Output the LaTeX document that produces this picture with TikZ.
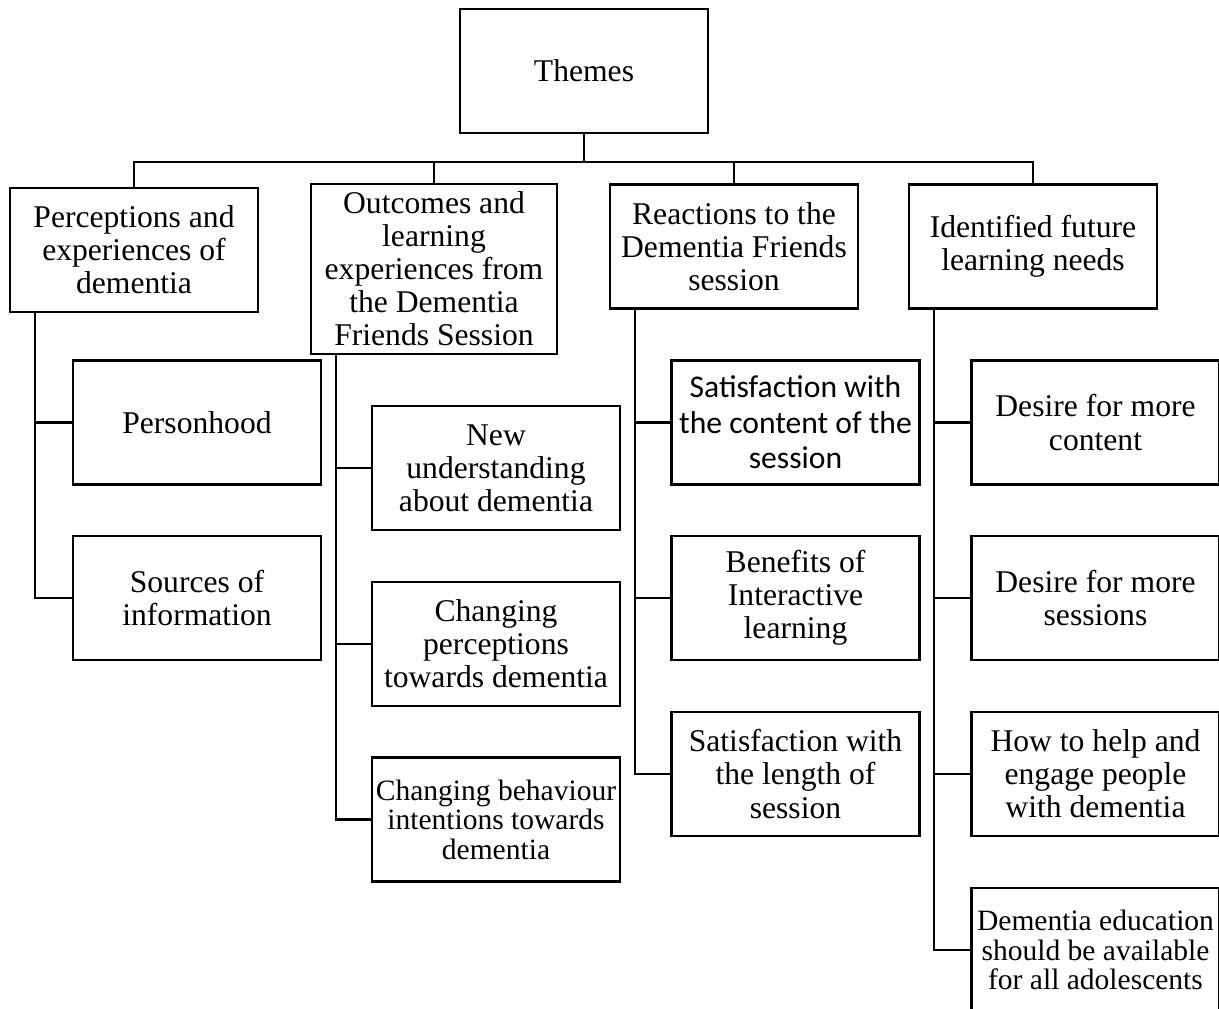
\documentclass[tikz,border=0pt]{standalone}
\usepackage{fontspec}
\setmainfont{Liberation Serif}
\newfontfamily\calibri{Carlito}
\tikzset{
  box/.style={draw,line width=1.3pt,align=center,inner sep=0pt,
    minimum width=4.96cm,minimum height=2.48cm,
    font=\fontsize{18}{18.8}\selectfont},
  small/.style={font=\fontsize{16.8}{16.8}\selectfont},
  link/.style={line width=1.3pt}
}
\begin{document}
\begin{tikzpicture}[x=0.02cm,y=-0.02cm]
  \useasboundingbox (0,0) rectangle (1219,1008);
  \node[box] (themes) at (584,71) {Themes};
  % main themes
  \node[box] (p1) at (134,250) {Perceptions and\\experiences of\\dementia};
  \node[box,minimum width=4.92cm,minimum height=3.4cm] (p2) at (434,269)
    {Outcomes and\\learning\\experiences from\\the Dementia\\Friends Session};
  \node[box] (p3) at (734,246.5) {Reactions to the\\Dementia Friends\\session};
  \node[box] (p4) at (1033,246.5) {Identified future\\learning needs};
  % sub-themes
  \node[box] (s11) at (197,422.5) {Personhood};
  \node[box] (s12) at (197,598) {Sources of\\information};
  \node[box] (s21) at (496,468) {New\\understanding\\about dementia};
  \node[box] (s22) at (496,644) {Changing\\perceptions\\towards dementia};
  \node[box,small] (s23) at (496,819.5) {Changing behaviour\\intentions towards\\dementia};
  \node[box,font=\calibri\fontsize{18}{20.2}\selectfont] (s31) at (795.5,422.5)
    {Satisfaction with\\the content of the\\session};
  \node[box] (s32) at (795.5,598) {Benefits of\\Interactive\\learning};
  \node[box] (s33) at (795.5,774) {Satisfaction with\\the length of\\session};
  \node[box] (s41) at (1095.5,422.5) {Desire for more\\content};
  \node[box] (s42) at (1095.5,598) {Desire for more\\sessions};
  \node[box] (s43) at (1095.5,774) {How to help and\\engage people\\with dementia};
  \node[box,small] (s44) at (1095.5,950) {Dementia education\\should be available\\for all adolescents};
  % tree links
  \coordinate (bus) at (584,162);
  \draw[link] (themes.south) -- (bus);
  \draw[link] (p1.north) |- (bus) -| (p4.north);
  \draw[link] (p2.north) -- (p2.north |- bus);
  \draw[link] (p3.north) -- (p3.north |- bus);
  \foreach \p/\a/\b in {p1/s11/s12,p2/s21/s23,p3/s31/s33,p4/s41/s44}
    \draw[link] ([xshift=0.52cm]\p.south west) coordinate (c\p) |- (\b.west);
  \foreach \p/\s in {p1/s11,p2/s21,p2/s22,p3/s31,p3/s32,p4/s41,p4/s42,p4/s43}
    \draw[link] (c\p |- \s.west) -- (\s.west);
\end{tikzpicture}
\end{document}
